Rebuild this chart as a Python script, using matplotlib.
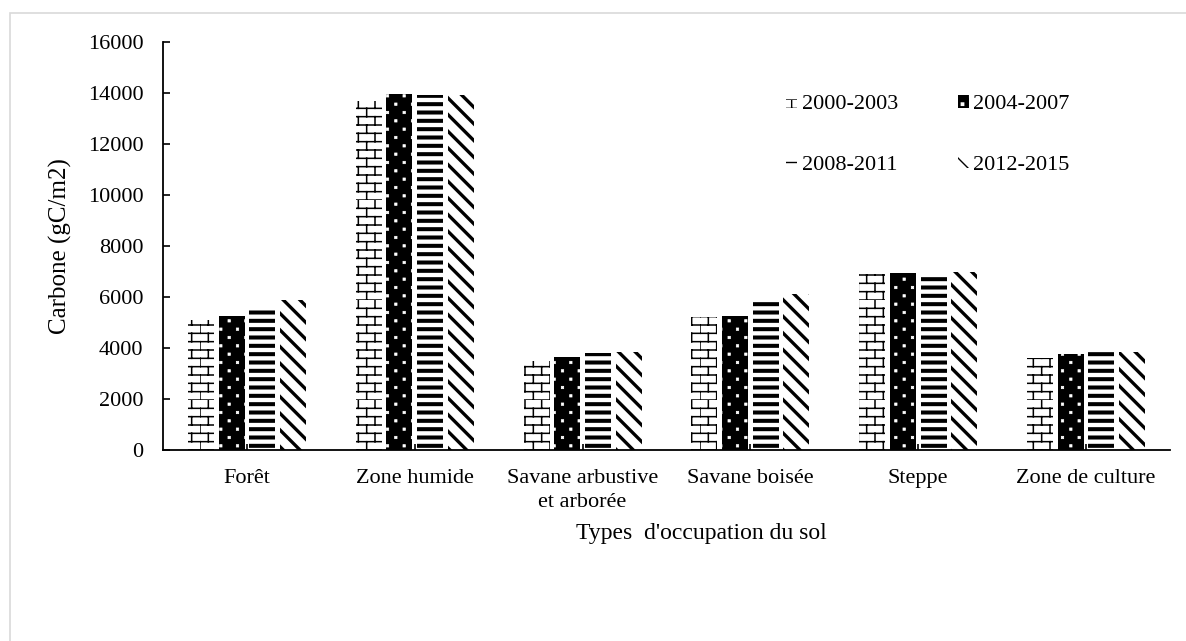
import warnings
import numpy as np
import matplotlib
matplotlib.use("Agg")
import matplotlib.pyplot as plt
import matplotlib.hatch as mhatch
from matplotlib.path import Path
from matplotlib.patches import Rectangle

warnings.filterwarnings("ignore")

# Data
categories = ["Forêt", "Zone humide", "Savane arbustive\net arborée",
              "Savane boisée", "Steppe", "Zone de culture"]
periods = ["2000-2003", "2004-2007", "2008-2011", "2012-2015"]
v_2000_2003 = [5100, 13700, 3500, 5200, 6900, 3600]
v_2004_2007 = [5260, 13960, 3650, 5250, 6960, 3770]
v_2008_2011 = [5580, 13910, 3800, 5800, 6960, 3860]
v_2012_2015 = [5880, 13920, 3850, 6100, 7000, 3860]
series = [v_2000_2003, v_2004_2007, v_2008_2011, v_2012_2015]


# brick hatch (letter 'b'): n rows per unit cell, bricks two rows wide
class BrickHatch(mhatch.HatchPatternBase):
    def __init__(self, hatch, density):
        n = int(hatch.count('b') * density)
        n -= n % 2
        self.n = n
        self.num_vertices = 2 * n + n * (n // 2) * 2 if n else 0

    def set_vertices_and_codes(self, vertices, codes):
        n = self.n
        k = 0
        step = 1.0 / n
        for i in range(n):
            y0 = i * step
            vertices[k] = (0, y0); codes[k] = Path.MOVETO; k += 1
            vertices[k] = (1, y0); codes[k] = Path.LINETO; k += 1
            off = 0 if i % 2 == 0 else step
            for j in range(n // 2):
                xx = off + j * 2 * step
                vertices[k] = (xx, y0); codes[k] = Path.MOVETO; k += 1
                vertices[k] = (xx, y0 + step); codes[k] = Path.LINETO; k += 1


# sparse staggered square dots (letter 'd')
class DotHatch(mhatch.HatchPatternBase):
    size = 0.012

    def __init__(self, hatch, density):
        n = int(hatch.count('d') * density)
        n -= n % 2
        self.n = n
        self.num_vertices = n * (n // 2) * 5 if n else 0

    def set_vertices_and_codes(self, vertices, codes):
        n = self.n
        s = self.size
        step = 1.0 / n
        k = 0
        for i in range(n):
            yc = (i + 0.5) * step
            off = 0.5 * step if i % 2 == 0 else 1.5 * step
            for j in range(n // 2):
                xc = off + j * 2 * step
                pts = [(xc - s, yc - s), (xc + s, yc - s), (xc + s, yc + s),
                       (xc - s, yc + s), (xc - s, yc - s)]
                cds = [Path.MOVETO, Path.LINETO, Path.LINETO, Path.LINETO,
                       Path.CLOSEPOLY]
                for p, c in zip(pts, cds):
                    vertices[k] = p; codes[k] = c; k += 1


mhatch._hatch_types.append(BrickHatch)
mhatch._hatch_types.append(DotHatch)

plt.rcParams['font.family'] = ['Liberation Serif', 'DejaVu Serif']

fig = plt.figure(figsize=(11.86, 6.41), dpi=100)
ax = fig.add_axes([163 / 1186, 1 - 450 / 641, 1007 / 1186, 408 / 641])

x = np.arange(len(categories))
width = 0.155
step = 0.183
styles = [
    dict(hatch='bb', facecolor='white', edgecolor='black', hlw=1.1),
    dict(hatch='dd', facecolor='black', edgecolor='white', hlw=0.5),
    dict(hatch='--', facecolor='white', edgecolor='black', hlw=2.9),
    dict(hatch='\\\\', facecolor='white', edgecolor='black', hlw=2.4),
]

handles = []
for i, (vals, st) in enumerate(zip(series, styles)):
    with plt.rc_context({'hatch.linewidth': st['hlw']}):
        bars = ax.bar(x + (i - 1.5) * step, vals, width, facecolor=st['facecolor'],
                      edgecolor=st['edgecolor'], hatch=st['hatch'], linewidth=0,
                      label=periods[i])
        for b in bars:
            if hasattr(b, 'set_hatch_linewidth'):
                b.set_hatch_linewidth(st['hlw'])
    handles.append(bars)

ax.set_xlim(-0.5, len(categories) - 0.5)
ax.set_ylim(0, 16000)
ax.set_yticks(np.arange(0, 16001, 2000))
ax.set_xticks(x)
ax.set_xticklabels(categories, fontsize=16, linespacing=1.3)
ax.tick_params(axis='y', direction='in', length=5, width=1.2, labelsize=16, pad=14)
ax.tick_params(axis='x', direction='in', length=4, width=1.2, pad=14)

for s in ['top', 'right']:
    ax.spines[s].set_visible(False)
for s in ['left', 'bottom']:
    ax.spines[s].set_linewidth(1.3)

ax.set_ylabel("Carbone (gC/m2)", fontsize=18)
ax.yaxis.set_label_coords(-0.09, 0.5)
ax.set_xlabel("Types  d'occupation du sol", fontsize=17)
ax.xaxis.set_label_coords(0.535, -0.18)

order = [0, 2, 1, 3]
leg = ax.legend([handles[i] for i in order], [periods[i] for i in order],
                ncol=2, frameon=False, fontsize=16, loc='upper left',
                bbox_to_anchor=(775 / 1186, 1 - 84 / 641),
                bbox_transform=fig.transFigure, borderpad=0,
                handlelength=0.5, handleheight=0.5, handletextpad=0.2,
                labelspacing=1.85, columnspacing=2.7)

# light frame around the chart area
fig.patches.append(Rectangle((10 / 1186, -0.2), 1.2, 1.2 - 14 / 641 + 0.002,
                             transform=fig.transFigure, fill=False,
                             edgecolor='#d9d9d9', linewidth=1.2))

fig.savefig("out.png", dpi=100)
